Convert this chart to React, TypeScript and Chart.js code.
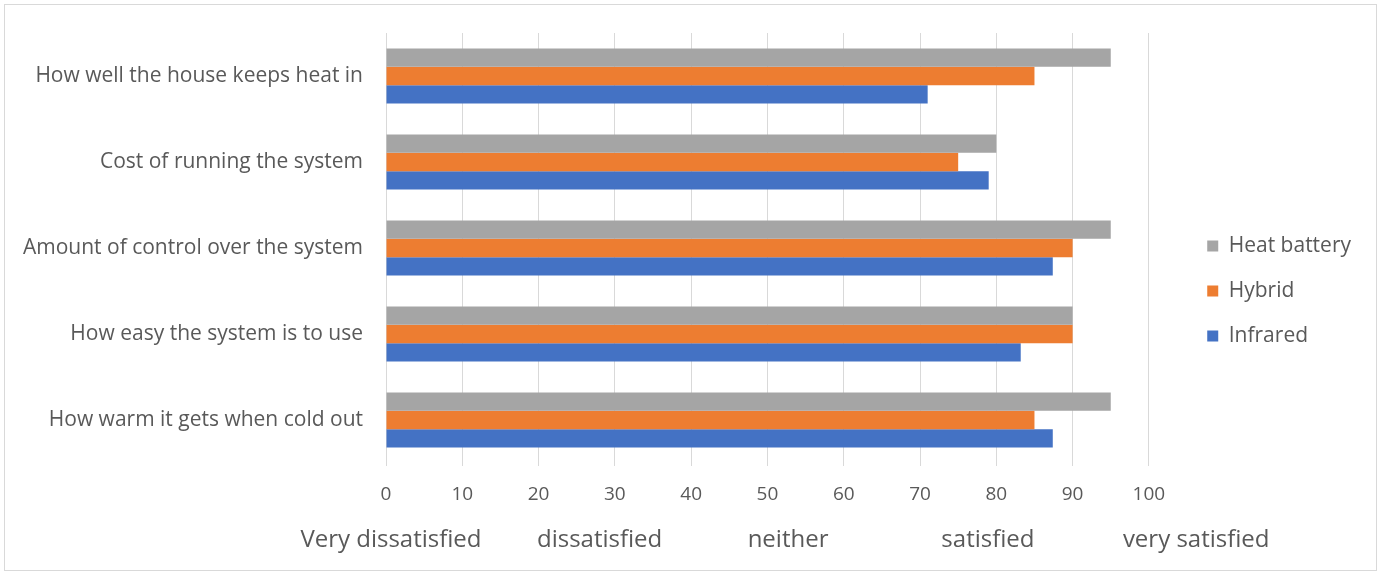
import React, { useEffect, useRef } from "react";
import { Chart, registerables } from "chart.js";

Chart.register(...registerables);

const categories = [
  "How well the house keeps heat in",
  "Cost of running the system",
  "Amount of control over the system",
  "How easy the system is to use",
  "How warm it gets when cold out",
];

const heatBattery = [95, 80, 95, 90, 95];
const hybrid = [85, 75, 90, 90, 85];
const infrared = [71, 79, 87.4, 83.2, 87.4];

const xTickStep = 10;
const xMin = 0;
const xMax = 104.5;
const xLastTick = 100;

const ratingLabels = ["Very dissatisfied", "dissatisfied", "neither", "satisfied", "very satisfied"];
const ratingAnchors = [0.65, 28, 52.7, 78.9, 106.2];

const TEXT = "#595959";
const FONT = "'Open Sans', sans-serif";

const ratingPlugin = {
  id: "ratingLabels",
  afterDraw(chart: any) {
    const { ctx } = chart;
    const xs = chart.scales.x;
    ctx.save();
    ctx.font = `24px ${FONT}`;
    ctx.fillStyle = TEXT;
    ctx.textAlign = "center";
    ctx.textBaseline = "middle";
    ratingLabels.forEach((t, i) => {
      ctx.fillText(t, xs.getPixelForValue(ratingAnchors[i]), 540);
    });
    ctx.restore();
  },
};

export default function App() {
  const ref = useRef<HTMLCanvasElement>(null);
  useEffect(() => {
    const chart = new Chart(ref.current!, {
      type: "bar",
      data: {
        labels: categories,
        datasets: [
          { label: "Heat battery", data: heatBattery, backgroundColor: "#A5A5A5" },
          { label: "Hybrid", data: hybrid, backgroundColor: "#ED7D31" },
          { label: "Infrared", data: infrared, backgroundColor: "#4472C4" },
        ],
      },
      options: {
        indexAxis: "y",
        responsive: false,
        animation: false,
        layout: { padding: { top: 33, bottom: 26, left: 0, right: 20 } },
        datasets: { bar: { categoryPercentage: 0.64, barPercentage: 1 } },
        scales: {
          x: {
            min: xMin,
            max: xMax,
            afterFit: (s: any) => { s.height = 86; },
            ticks: {
              stepSize: xTickStep,
              includeBounds: false,
              color: TEXT,
              font: { family: FONT, size: 19 },
              padding: 17,
              callback: (v: any) => (v <= xLastTick ? String(v) : ""),
            },
            grid: { color: "#D9D9D9", drawTicks: true, tickLength: 3 },
            border: { display: false },
          },
          y: {
            afterFit: (s: any) => { s.width = 386; },
            ticks: {
              color: TEXT,
              font: { family: FONT, size: 21 },
              padding: 15,
            },
            grid: { display: false },
            border: { display: false },
          },
        },
        plugins: {
          legend: {
            position: "right",
            labels: {
              color: TEXT,
              font: { family: FONT, size: 21 },
              boxWidth: 11,
              boxHeight: 11,
              padding: 24,
            },
          },
          tooltip: { enabled: false },
        },
      },
      plugins: [ratingPlugin],
    });
    return () => chart.destroy();
  }, []);

  return (
    <div style={{ position: "absolute", left: 0, top: 0, width: 1381, height: 575, background: "#fff" }}>
      <div style={{ position: "absolute", left: 4, top: 4, width: 1371, height: 565, border: "1px solid #D9D9D9" }} />
      <canvas ref={ref} width={1381} height={575} style={{ position: "absolute", left: 0, top: 0 }} />
    </div>
  );
}
